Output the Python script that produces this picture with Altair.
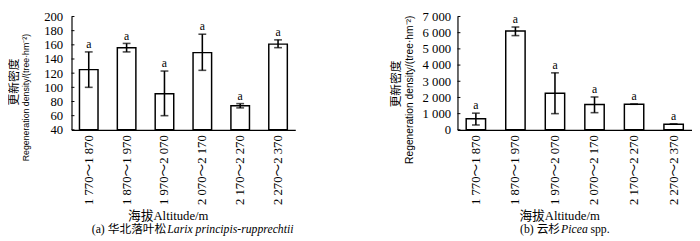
import altair as alt
import pandas as pd

categories = ["1 770～1 870", "1 870～1 970", "1 970～2 070",
              "2 070～2 170", "2 170～2 270", "2 270～2 370"]
letters = ["a", "a", "a", "a", "a", "a"]

larix_mean = [125, 156, 91, 149, 74, 161]
larix_lo = [100, 150, 60, 124, 71, 156]
larix_hi = [150, 162, 123, 175, 77, 167]
larix_ticks = [40, 60, 80, 100, 120, 140, 160, 180, 200]

picea_mean = [680, 6100, 2260, 1560, 1580, 350]
picea_lo = [300, 5820, 1000, 1060, 1580, 350]
picea_hi = [1030, 6350, 3520, 2030, 1580, 350]
picea_ticks = [0, 1000, 2000, 3000, 4000, 5000, 6000, 7000]

y_title_cn = "更新密度"
y_title_en = "Regeneration density/(tree·hm⁻²)"
x_title = "海拔Altitude/m"
caption_a = ["(a) 华北落叶松", "Larix principis-rupprechtii", ""]
caption_b = ["(b) 云杉", "Picea", "spp."]

SERIF = "Liberation Serif, Noto Sans CJK SC"
SANS = "Liberation Sans, Noto Sans CJK SC"
H = 116


def panel(mean, lo, hi, ticks, width, pad_outer, caption, cap_split, cap_third,
          cn_x, en_x, cn_y, en_y, en_size, label_pad, label_expr):
    df = pd.DataFrame({"cat": categories, "mean": mean, "lo": lo,
                       "hi": hi, "letter": letters})
    df["base"] = ticks[0]
    yscale = alt.Scale(domain=[ticks[0], ticks[-1]], nice=False, zero=False)
    xscale = alt.Scale(paddingInner=0.51, paddingOuter=pad_outer)
    xaxis = alt.Axis(title=x_title, labelAngle=270, ticks=False,
                     labelPadding=5, labelFont=SERIF, labelFontSize=13,
                     labelColor="black", domainColor="black",
                     domainWidth=1.2, titleFont=SERIF,
                     titleFontSize=13, titleFontWeight="normal",
                     titleColor="black", titlePadding=5, titleX=width / 2 - 16)
    yaxis = alt.Axis(title=None, values=ticks, ticks=False, grid=False,
                     labelFont=SERIF, labelFontSize=13, labelColor="black",
                     labelPadding=label_pad, domainColor="black", domainWidth=1.2,
                     labelExpr=label_expr)
    xenc = alt.X("cat:N", sort=categories, scale=xscale, axis=xaxis)

    def yenc(f):
        return alt.Y(f, scale=yscale, axis=yaxis)

    base = alt.Chart(df)
    bars = base.mark_bar(fill="white", stroke="black", strokeWidth=1.5).encode(
        x=xenc, y=yenc("mean:Q"), y2="base:Q")
    err = base.mark_errorbar(ticks=True, color="black", thickness=1.6, size=8).encode(
        x=xenc, y=yenc("lo:Q"), y2="hi:Q")
    txt = base.mark_text(font=SERIF, fontSize=12, baseline="alphabetic",
                         dy=-4, color="black").encode(
        x=xenc, y=yenc("hi:Q"), text="letter:N")
    tdf = pd.DataFrame({"v": ticks})
    tickmarks = alt.Chart(tdf).mark_rule(color="black", strokeWidth=1).encode(
        y=yenc("v:Q"), x=alt.value(0), x2=alt.value(3))
    cn = alt.Chart(pd.DataFrame({"t": [y_title_cn]})).mark_text(
        font=SANS, fontSize=12, angle=270, color="black").encode(
        text="t:N", x=alt.value(cn_x), y=alt.value(cn_y))
    en = alt.Chart(pd.DataFrame({"t": [y_title_en]})).mark_text(
        font=SANS, fontSize=en_size, angle=270, color="black").encode(
        text="t:N", x=alt.value(en_x), y=alt.value(en_y))
    cap1 = alt.Chart(pd.DataFrame({"t": [caption[0]]})).mark_text(
        font=SERIF, fontSize=12, align="right", baseline="middle", color="black").encode(
        text="t:N", x=alt.value(cap_split), y=alt.value(H + 102))
    cap2 = alt.Chart(pd.DataFrame({"t": [caption[1]]})).mark_text(
        font=SERIF, fontSize=12, fontStyle="italic", align="left",
        baseline="middle", color="black").encode(
        text="t:N", x=alt.value(cap_split + 1), y=alt.value(H + 102))
    layers = [bars, err, txt, tickmarks, cn, en, cap1, cap2]
    if caption[2]:
        cap3 = alt.Chart(pd.DataFrame({"t": [caption[2]]})).mark_text(
            font=SERIF, fontSize=12, align="left",
            baseline="middle", color="black").encode(
            text="t:N", x=alt.value(cap_third), y=alt.value(H + 102))
        layers.append(cap3)
    return alt.layer(*layers).properties(width=width, height=H)


left = panel(larix_mean, larix_lo, larix_hi, larix_ticks, 229, 0.21,
             caption_a, 97, 0, -59, -46, 67, 83, 9, 9, "datum.label")
right = panel(picea_mean, picea_lo, picea_hi, picea_ticks, 240, 0.22,
              caption_b, 105, 136, -63, -49, 69, 75, 10.5, 7,
              "datum.value == 0 ? '0' : floor(datum.value/1000) + ' 000'")

chart = alt.hconcat(left, right, spacing=97).properties(
    padding=0, background="white"
).configure_view(stroke=None)

chart.save("out.html", embed_options={"renderer": "svg", "actions": False})
